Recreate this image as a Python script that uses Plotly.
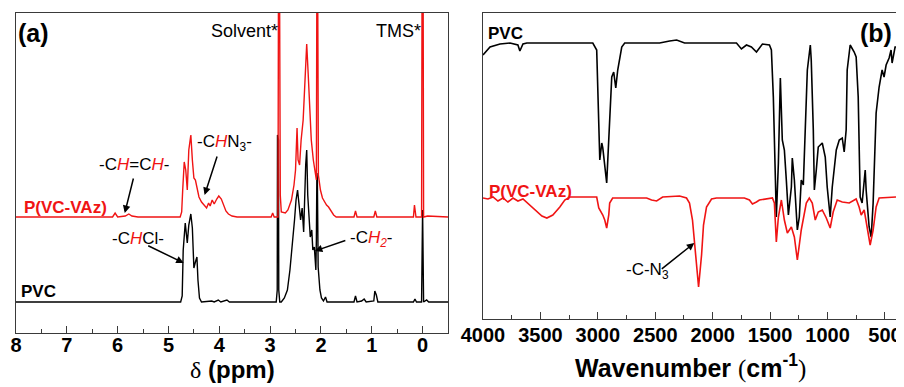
import plotly.graph_objects as go

# ---------------- (a) 1H NMR data (delta ppm, intensity a.u.) ----------------
nmr_pvc_ppm = [8.0, 6.0, 4.76, 4.73, 4.71, 4.67, 4.63, 4.60, 4.56, 4.53, 4.50, 4.47, 4.44, 4.42, 4.39, 4.35,
               4.15, 4.10, 4.02, 3.97, 3.85, 3.80, 2.88, 2.86, 2.855, 2.835, 2.83, 2.81, 2.78, 2.72, 2.66,
               2.61, 2.56, 2.52, 2.49, 2.46, 2.43, 2.40, 2.37, 2.34, 2.30, 2.28, 2.26, 2.24, 2.21, 2.18,
               2.16, 2.13, 2.10, 2.09, 2.08, 2.07, 2.055, 2.02, 1.99, 1.95, 1.91, 1.88, 1.35, 1.32, 1.29,
               1.20, 1.15, 1.11, 0.96, 0.94, 0.91, 0.88, 0.18, 0.15, 0.12, 0.02, 0.0, -0.02, -0.08, -0.12, -0.5]
nmr_pvc_int = [31, 31, 31, 37, 83, 110, 90, 108, 119, 105, 65, 71, 76, 53, 35, 31,
               32, 31, 33, 31, 33, 31, 31, 43, 198, 193, 43, 31, 31, 35, 43,
               63, 88, 113, 133, 143, 128, 113, 125, 101, 168, 183, 138, 116, 96, 103,
               83, 86, 63, 93, 160, 153, 66, 43, 35, 32, 36, 31, 31, 37, 31,
               32, 34, 31, 32, 42, 38, 31, 31, 34, 31, 31, 123, 31, 33, 31, 31]

nmr_pvaz_ppm = [8.0, 6.1, 6.05, 6.0, 5.85, 5.78, 5.72, 5.6, 4.77, 4.74, 4.72, 4.69, 4.66, 4.63, 4.60, 4.56,
                4.53, 4.50, 4.47, 4.44, 4.40, 4.35, 4.30, 4.25, 4.21, 4.18, 4.14, 4.10, 4.05, 4.01, 3.96,
                3.92, 3.87, 3.82, 3.75, 3.65, 2.98, 2.95, 2.92, 2.845, 2.835, 2.815, 2.80, 2.78, 2.70,
                2.65, 2.58, 2.53, 2.50, 2.47, 2.45, 2.42, 2.39, 2.35, 2.31, 2.28, 2.25, 2.22, 2.19, 2.15,
                2.11, 2.09, 2.08, 2.065, 2.05, 2.01, 1.97, 1.93, 1.89, 1.85, 1.80, 1.75, 1.70, 1.35, 1.32,
                1.29, 0.96, 0.93, 0.90, 0.18, 0.16, 0.13, 0.02, 0.01, -0.01, -0.02, -0.1, -0.5]
nmr_pvaz_int = [116, 116, 120, 116, 117, 119, 117, 116, 116, 121, 143, 171, 163, 143, 183, 198,
                173, 155, 153, 145, 136, 131, 128, 125, 130, 127, 133, 129, 134, 137, 134,
                128, 122, 119, 117, 116, 116, 120, 116, 116, 363, 363, 138, 121, 120,
                123, 133, 148, 163, 205, 173, 168, 193, 213, 263, 289, 258, 218, 193, 173,
                158, 153, 363, 363, 158, 143, 135, 131, 128, 126, 122, 118, 116, 116, 122,
                116, 116, 122, 116, 116, 128, 116, 116, 363, 363, 116, 117, 116]

nmr_ticks = [8, 7, 6, 5, 4, 3, 2, 1, 0]

# ---------------- (b) FTIR data (wavenumber cm-1, transmittance a.u.) ----------------
ir_pvc_wn = [4000, 3939, 3852, 3765, 3696, 3679, 3652, 3618, 3331, 3044, 3010, 3001, 2983, 2966, 2957,
             2923, 2905, 2888, 2879, 2862, 2844, 2827, 2792, 2766, 2462, 2375, 2314, 2245, 1793, 1750,
             1706, 1663, 1619, 1567, 1506, 1489, 1472, 1454, 1446, 1428, 1411, 1394, 1376, 1359, 1341,
             1315, 1307, 1289, 1263, 1246, 1229, 1211, 1194, 1176, 1150, 1142, 1124, 1115, 1098, 1081,
             1046, 1020, 1003, 977, 959, 924, 898, 872, 855, 838, 829, 803, 768, 751, 733, 716, 699,
             672, 664, 638, 620, 603, 577, 551, 525, 508, 490, 464, 447, 438, 412, 404]
ir_pvc_t = [264, 272, 275, 276, 274, 268, 275, 276, 276, 276, 269, 236, 159, 176, 171,
            136, 176, 219, 242, 247, 231, 249, 272, 276, 276, 278, 279, 276, 276, 270,
            274, 272, 267, 275, 274, 269, 222, 139, 102, 156, 241, 179, 169, 139, 104,
            132, 161, 139, 89, 102, 139, 134, 189, 249, 274, 259, 189, 129, 149, 172,
            176, 162, 132, 102, 132, 169, 179, 181, 167, 189, 249, 274, 267, 262, 222, 122, 116,
            149, 129, 92, 82, 116, 206, 232, 249, 242, 254, 261, 269, 256, 272, 272]

ir_pvaz_wn = [4000, 3957, 3913, 3870, 3826, 3783, 3739, 3696, 3652, 3592, 3531, 3487, 3444, 3392, 3331,
              3288, 3244, 3010, 2992, 2957, 2940, 2923, 2905, 2897, 2871, 2575, 2532, 2488, 2436, 2288,
              2228, 2202, 2176, 2150, 2123, 2097, 2080, 2054, 2010, 1967, 1724, 1680, 1654, 1619, 1593,
              1480, 1463, 1446, 1428, 1402, 1376, 1350, 1315, 1289, 1263, 1229, 1185, 1159, 1133, 1107,
              1081, 1046, 1011, 977, 951, 916, 872, 811, 751, 725, 707, 681, 655, 629, 603, 577, 551, 404]
ir_pvaz_t = [121, 120, 122, 118, 121, 117, 121, 118, 120, 114, 108, 103, 101, 104, 112,
             119, 122, 122, 111, 104, 99, 91, 104, 116, 121, 121, 119, 118, 122, 123,
             121, 116, 99, 64, 32, 64, 94, 112, 120, 121, 121, 119, 115, 117, 119,
             121, 116, 77, 102, 119, 99, 86, 92, 82, 59, 89, 116, 121, 116, 99,
             107, 109, 101, 91, 107, 119, 117, 116, 120, 112, 104, 109, 89, 74, 89, 112, 121, 122]

ir_ticks = [4000, 3500, 3000, 2500, 2000, 1500, 1000, 500]

RED = "#f01414"
FONT = "Liberation Sans"
# the html page body has an 8px margin: lay the figure out in a box shifted by it
OFF = 8
W, H = 904 - OFF, 387 - OFF


def PX(px):
    return (px - OFF) / W


def PY(py):
    return 1 - (py - OFF) / H


fig = go.Figure()
fig.add_trace(go.Scatter(x=nmr_pvc_ppm, y=nmr_pvc_int, mode="lines", line=dict(color="black", width=1.4),
                         xaxis="x", yaxis="y", showlegend=False))
fig.add_trace(go.Scatter(x=nmr_pvaz_ppm, y=nmr_pvaz_int, mode="lines", line=dict(color=RED, width=1.4),
                         xaxis="x", yaxis="y", showlegend=False))
fig.add_trace(go.Scatter(x=ir_pvc_wn, y=ir_pvc_t, mode="lines", line=dict(color="black", width=1.6),
                         xaxis="x2", yaxis="y2", showlegend=False))
fig.add_trace(go.Scatter(x=ir_pvaz_wn, y=ir_pvaz_t, mode="lines", line=dict(color=RED, width=1.6),
                         xaxis="x2", yaxis="y2", showlegend=False))

axline = dict(showline=True, linecolor="#3a3a3a", linewidth=1.2, mirror=True, showgrid=False, zeroline=False)
tickfont = dict(family=FONT, size=20, color="black")

fig.update_layout(
    width=W, height=H, margin=dict(l=0, r=0, t=0, b=0, autoexpand=False),
    paper_bgcolor="white", plot_bgcolor="white",
    xaxis=dict(domain=[PX(16), PX(448)], range=[8, -0.5], tickvals=nmr_ticks,
               ticktext=["<b>%d</b>" % v for v in nmr_ticks], ticks="inside", ticklen=7,
               tickwidth=1.2, tickcolor="#3a3a3a", tickfont=tickfont, anchor="y", automargin=False,
               ticklabelstandoff=-6,
               minor=dict(dtick=0.5, ticks="inside", ticklen=4, tickcolor="#3a3a3a"), **axline),
    yaxis=dict(domain=[PY(333), PY(13)], range=[0, 320], showticklabels=False, ticks="",
               anchor="x", automargin=False, **axline),
    xaxis2=dict(domain=[PX(483), PX(896)], range=[4000, 404], tickvals=ir_ticks,
                ticktext=["<b>%d</b>" % v for v in ir_ticks], ticks="inside", ticklen=7,
                tickwidth=1.2, tickcolor="#3a3a3a", tickfont=tickfont, anchor="y2", automargin=False,
                ticklabelstandoff=-2,
                minor=dict(dtick=250, ticks="inside", ticklen=4, tickcolor="#3a3a3a"), **axline),
    yaxis2=dict(domain=[PY(319), PY(13)], range=[0, 306], showticklabels=False, ticks="",
                anchor="x2", automargin=False, **axline),
)

anns = []


def txt(px, py, text, size=17, color="black"):
    anns.append(dict(x=PX(px), y=PY(py), xref="paper", yref="paper", text=text, showarrow=False,
                     xanchor="center", yanchor="middle",
                     font=dict(family=FONT, size=size, color=color)))


def arrow(x, y, ax, ay, xr, yr):
    anns.append(dict(x=x, y=y, xref=xr, yref=yr, ax=ax, ay=ay, text="", showarrow=True,
                     arrowhead=2, arrowsize=1, arrowwidth=1.5, arrowcolor="black"))


redH = "<span style='color:%s'><i>H</i></span>" % RED
# panel (a)
txt(33, 33, "<b>(a)</b>", 25)
txt(245, 31, "Solvent*", 18)
txt(398, 31, "TMS*", 18)
txt(134, 164, "-C%s=C%s-" % (redH, redH), 17)
txt(224, 143, "-C%sN<sub>3</sub>-" % redH, 17)
txt(65, 207, "<b>P(VC-VAz)</b>", 17, RED)
txt(38, 291, "<b>PVC</b>", 17)
txt(138, 238, "-C%sCl-" % redH, 17)
txt(371, 239, "-C<span style='color:%s'><i>H<sub>2</sub></i></span>-" % RED, 17)
txt(232, 369, "<span style='font-family:Liberation Serif'>δ</span> <b>(ppm)</b>", 24)
# panel (b)
txt(876, 33, "<b>(b)</b>", 25)
txt(505, 34, "<b>PVC</b>", 17)
txt(530, 191, "<b>P(VC-VAz)</b>", 17, RED)
txt(647, 271, "-C-N<sub>3</sub>", 17)
txt(690, 366, "<b>Wavenumber </b><span style='font-family:Liberation Serif'>(</span><b>cm<sup>-1</sup></b>"
              "<span style='font-family:Liberation Serif'>)</span>", 25)

# arrows (tip in data coordinates, tail as pixel offset)
arrow(5.86, 120, 9, -36, "x", "y")
arrow(4.29, 138, 13, -40, "x", "y")
arrow(4.70, 70, -37, -18, "x", "y")
arrow(2.12, 82, 32, -11, "x", "y")
arrow(2160, 76, -34, 27, "x2", "y2")

fig.update_layout(annotations=anns)
fig.write_html("out.html")
